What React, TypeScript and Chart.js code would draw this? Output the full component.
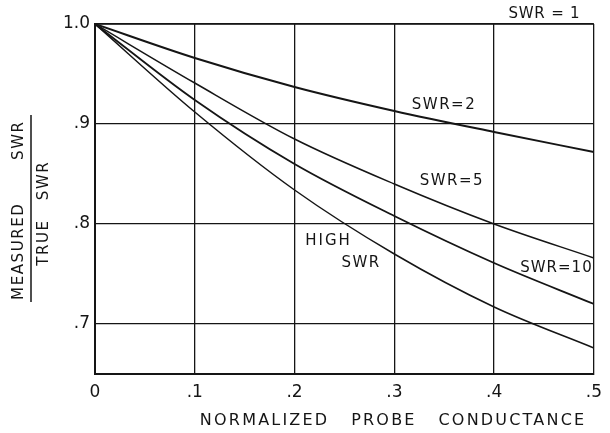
import React, { useEffect, useRef } from "react";
import { Chart, registerables } from "chart.js";

Chart.register(...registerables);

const conductance = [0, 0.1, 0.2, 0.3, 0.4, 0.5];
const swr1 = [1.0, 1.0, 1.0, 1.0, 1.0, 1.0];
const swr2 = [1.0, 0.966, 0.937, 0.913, 0.892, 0.872];
const swr5 = [1.0, 0.941, 0.885, 0.84, 0.8, 0.766];
const swr10 = [1.0, 0.924, 0.86, 0.808, 0.761, 0.72];
const swrHigh = [1.0, 0.912, 0.834, 0.77, 0.717, 0.676];

const xTicks = [0, 0.1, 0.2, 0.3, 0.4, 0.5];
const yTicks = [0.65, 0.7, 0.8, 0.9, 1.0];

const annotationTexts = ["SWR = 1", "SWR=2", "SWR=5", "SWR=10", "HIGH", "SWR"];
const annotationX = [0.45, 0.349, 0.357, 0.462, 0.233, 0.266];
const annotationY = [1.0095, 0.919, 0.843, 0.756, 0.783, 0.761];
const annotationSpacing = [0.8, 1.5, 1.5, 1.0, 2.0, 1.5];

const FONT = "'DejaVu Sans', sans-serif";
const INK = "#151515";

function spacedText(ctx: CanvasRenderingContext2D, text: string, cx: number, cy: number, spacing: number) {
  (ctx as any).letterSpacing = spacing + "px";
  const w = ctx.measureText(text).width - spacing;
  ctx.textAlign = "left";
  ctx.fillText(text, cx - w / 2, cy);
  (ctx as any).letterSpacing = "0px";
}

const textPlugin = {
  id: "textPlugin",
  afterDraw(chart: any) {
    const ctx: CanvasRenderingContext2D = chart.ctx;
    const xs = chart.scales.x;
    const ys = chart.scales.y;
    ctx.save();
    ctx.fillStyle = INK;
    ctx.textBaseline = "middle";

    // x axis title
    ctx.font = `16px ${FONT}`;
    spacedText(ctx, "NORMALIZED   PROBE   CONDUCTANCE", 392, 421, 2.2);

    // y axis title (fraction)
    ctx.save();
    ctx.translate(19, 0);
    ctx.rotate(-Math.PI / 2);
    ctx.font = `15px ${FONT}`;
    spacedText(ctx, "MEASURED", -252, 0, 1.6);
    spacedText(ctx, "SWR", -141, 0, 1.6);
    ctx.restore();
    ctx.save();
    ctx.translate(44, 0);
    ctx.rotate(-Math.PI / 2);
    ctx.font = `15px ${FONT}`;
    spacedText(ctx, "TRUE   SWR", -214, 0, 1.6);
    ctx.restore();
    ctx.strokeStyle = INK;
    ctx.lineWidth = 1.5;
    ctx.beginPath();
    ctx.moveTo(31, 115);
    ctx.lineTo(31, 302);
    ctx.stroke();

    // curve annotations
    ctx.font = `15px ${FONT}`;
    annotationTexts.forEach((t, i) => {
      const px = xs.getPixelForValue(annotationX[i]);
      const py = ys.getPixelForValue(annotationY[i]);
      spacedText(ctx, t, px, py, annotationSpacing[i]);
    });
    ctx.restore();
  },
};

export default function App() {
  const ref = useRef<HTMLCanvasElement | null>(null);
  useEffect(() => {
    document.body.style.margin = "0";
    document.body.style.overflow = "hidden";
    const canvas = ref.current;
    if (!canvas) return;
    const mk = (label: string, data: number[], w: number) => ({
      label,
      data: conductance.map((x, i) => ({ x, y: data[i] })),
      borderColor: INK,
      borderWidth: w,
      pointRadius: 0,
      fill: false,
      cubicInterpolationMode: "monotone" as const,
    });
    const chart = new Chart(canvas, {
      type: "line",
      data: {
        datasets: [
          mk("SWR=1", swr1, 1.5),
          mk("SWR=2", swr2, 2),
          mk("SWR=5", swr5, 1.5),
          mk("SWR=10", swr10, 1.8),
          mk("HIGH SWR", swrHigh, 1.5),
        ],
      },
      options: {
        responsive: false,
        animation: false,
        layout: { padding: { top: 24, right: 6, left: 0, bottom: 0 } },
        plugins: { legend: { display: false }, tooltip: { enabled: false } },
        scales: {
          x: {
            type: "linear",
            min: 0,
            max: 0.5,
            afterBuildTicks: (s: any) => {
              s.ticks = xTicks.map((v) => ({ value: v }));
            },
            afterFit: (s: any) => {
              s.height = 59;
            },
            grid: { color: INK, lineWidth: 1.3, drawTicks: false },
            border: { display: true, color: INK, width: 2 },
            ticks: {
              padding: 8,
              color: INK,
              font: { family: FONT, size: 17 },
              callback: (v: any) => (v === 0 ? "0" : "." + Math.round(Number(v) * 10)),
            },
          },
          y: {
            type: "linear",
            min: 0.65,
            max: 1.0,
            afterBuildTicks: (s: any) => {
              s.ticks = yTicks.map((v) => ({ value: v }));
            },
            afterFit: (s: any) => {
              s.width = 95;
            },
            grid: { color: INK, lineWidth: 1.3, drawTicks: false },
            border: { display: true, color: INK, width: 2 },
            ticks: {
              padding: 5,
              color: INK,
              font: { family: FONT, size: 17 },
              callback: (v: any) => {
                const n = Number(v);
                if (Math.abs(n - 1) < 1e-9) return "1.0";
                if (Math.abs(n - 0.65) < 1e-9) return "";
                return "." + Math.round(n * 10);
              },
            },
          },
        },
      },
      plugins: [textPlugin],
    });
    return () => chart.destroy();
  }, []);
  return (
    <div style={{ width: 610, height: 433 }}>
      <canvas ref={ref} width={610} height={433} style={{ display: "block" }} />
    </div>
  );
}
